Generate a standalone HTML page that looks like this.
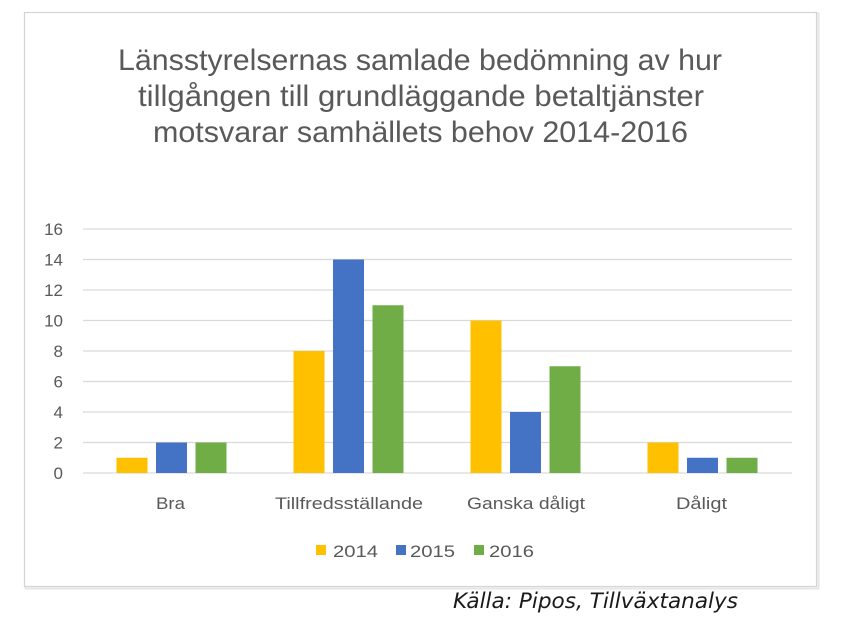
<!DOCTYPE html>
<html>
<head>
<meta charset="utf-8">
<style>
  html,body{margin:0;padding:0;background:#ffffff;}
  body{width:850px;height:628px;overflow:hidden;}
  svg{display:block;}
</style>
</head>
<body>
<svg width="850" height="628" viewBox="0 0 850 628" xmlns="http://www.w3.org/2000/svg">
  <rect x="0" y="0" width="850" height="628" fill="#ffffff"/>
  <!-- frame shadow + border -->
  <rect x="25.5" y="13.5" width="793" height="575" fill="none" stroke="#e6e6e6" stroke-width="2"/>
  <rect x="24.5" y="12.5" width="792" height="574" fill="#ffffff" stroke="#d4d4d4" stroke-width="1.2"/>

  <!-- title -->
  <g font-family="Liberation Sans, sans-serif" font-size="30" fill="#595959" text-anchor="middle">
    <text x="420" y="70" textLength="604" lengthAdjust="spacingAndGlyphs">Länsstyrelsernas samlade bedömning av hur</text>
    <text x="421" y="106" textLength="566" lengthAdjust="spacingAndGlyphs">tillgången till grundläggande betaltjänster</text>
    <text x="420.5" y="142" textLength="535" lengthAdjust="spacingAndGlyphs">motsvarar samhällets behov 2014-2016</text>
  </g>

  <!-- gridlines -->
  <g stroke="#d9d9d9" stroke-width="1.3">
    <line x1="83" y1="229" x2="792" y2="229"/>
    <line x1="83" y1="259.5" x2="792" y2="259.5"/>
    <line x1="83" y1="290" x2="792" y2="290"/>
    <line x1="83" y1="320.5" x2="792" y2="320.5"/>
    <line x1="83" y1="351" x2="792" y2="351"/>
    <line x1="83" y1="381.5" x2="792" y2="381.5"/>
    <line x1="83" y1="412" x2="792" y2="412"/>
    <line x1="83" y1="442.5" x2="792" y2="442.5"/>
    <line x1="83" y1="473" x2="792" y2="473"/>
  </g>

  <!-- y labels -->
  <g font-family="Liberation Sans, sans-serif" font-size="17" fill="#595959" text-anchor="end">
    <text x="63" y="235">16</text>
    <text x="63" y="265.5">14</text>
    <text x="63" y="296">12</text>
    <text x="63" y="326.5">10</text>
    <text x="63" y="357">8</text>
    <text x="63" y="387.5">6</text>
    <text x="63" y="418">4</text>
    <text x="63" y="448.5">2</text>
    <text x="63" y="479">0</text>
  </g>

  <!-- Bra -->
  <rect x="116.5" y="457.75" width="31" height="15.25" fill="#FFC000"/>
  <rect x="156" y="442.5" width="31" height="30.5" fill="#4472C4"/>
  <rect x="195.5" y="442.5" width="31" height="30.5" fill="#70AD47"/>
  <!-- Tillfredsställande -->
  <rect x="293.5" y="351" width="31" height="122" fill="#FFC000"/>
  <rect x="333" y="259.5" width="31" height="213.5" fill="#4472C4"/>
  <rect x="372.5" y="305.25" width="31" height="167.75" fill="#70AD47"/>
  <!-- Ganska dåligt -->
  <rect x="470.5" y="320.5" width="31" height="152.5" fill="#FFC000"/>
  <rect x="510" y="412" width="31" height="61" fill="#4472C4"/>
  <rect x="549.5" y="366.25" width="31" height="106.75" fill="#70AD47"/>
  <!-- Dåligt -->
  <rect x="647.5" y="442.5" width="31" height="30.5" fill="#FFC000"/>
  <rect x="687" y="457.75" width="31" height="15.25" fill="#4472C4"/>
  <rect x="726.5" y="457.75" width="31" height="15.25" fill="#70AD47"/>

  <!-- category labels -->
  <g font-family="Liberation Sans, sans-serif" font-size="17" fill="#595959" text-anchor="middle">
    <text x="170.5" y="509" textLength="29" lengthAdjust="spacingAndGlyphs">Bra</text>
    <text x="349" y="509" textLength="148" lengthAdjust="spacingAndGlyphs">Tillfredsställande</text>
    <text x="526" y="509" textLength="118" lengthAdjust="spacingAndGlyphs">Ganska dåligt</text>
    <text x="701.5" y="509" textLength="51" lengthAdjust="spacingAndGlyphs">Dåligt</text>
  </g>

  <!-- legend -->
  <rect x="316" y="545" width="10" height="10" fill="#FFC000"/>
  <rect x="396" y="545" width="10" height="10" fill="#4472C4"/>
  <rect x="474" y="545" width="10" height="10" fill="#70AD47"/>
  <g font-family="Liberation Sans, sans-serif" font-size="17" fill="#595959">
    <text x="333" y="557" textLength="45" lengthAdjust="spacingAndGlyphs">2014</text>
    <text x="410" y="557" textLength="45" lengthAdjust="spacingAndGlyphs">2015</text>
    <text x="489" y="557" textLength="45" lengthAdjust="spacingAndGlyphs">2016</text>
  </g>

  <!-- source -->
  <text x="453" y="608" font-family="DejaVu Sans, Liberation Sans, sans-serif" font-style="italic" font-size="21" fill="#1a1a1a" textLength="285" lengthAdjust="spacingAndGlyphs">Källa: Pipos, Tillväxtanalys</text>
</svg>
</body>
</html>
